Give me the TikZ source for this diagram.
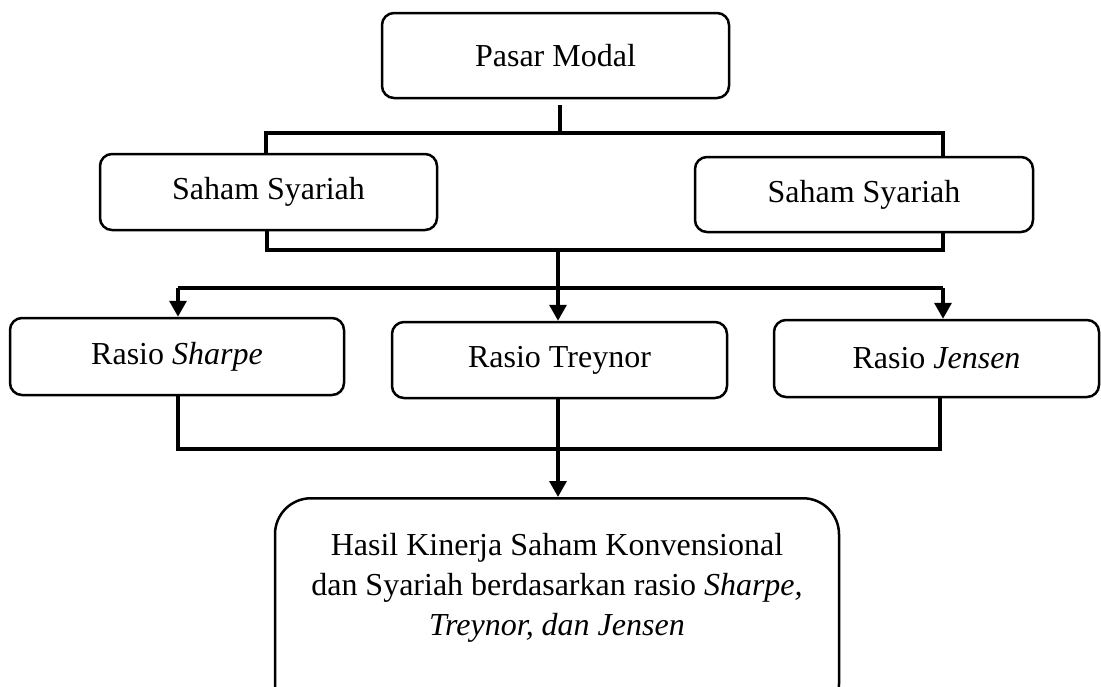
\documentclass[tikz,border=0pt]{standalone}
\usepackage{fontspec}
\setmainfont{Liberation Serif}
\usetikzlibrary{arrows.meta}
\begin{document}
\begin{tikzpicture}[x=1pt,y=-1pt,
  box/.style={draw=black, line width=2.5pt, rounded corners=12pt, inner sep=0pt, font=\fontsize{32}{40}\selectfont},
  conn/.style={draw=black, line width=3.5pt},
  arr/.style={conn, -{Triangle[width=17pt,length=16pt]}}]
\path[use as bounding box, clip] (0,0) rectangle (1101,686);
% boxes
\node[box, minimum width=347, minimum height=85] (pasar) at (555.5,55.5) {Pasar Modal};
\node[box, minimum width=337, minimum height=76] (s1) at (268.5,192) {Saham Syariah};
\node[box, minimum width=338, minimum height=75] (s2) at (864,194.5) {Saham Syariah};
\node[box, minimum width=334, minimum height=77] (r1) at (177,356.5) {Rasio \textit{Sharpe}};
\node[box, minimum width=335, minimum height=76] (r2) at (559.5,360) {Rasio Treynor};
\node[box, minimum width=325, minimum height=77] (r3) at (936.5,358.5) {Rasio \textit{Jensen}};
\node[box, rounded corners=36pt, minimum width=564, minimum height=222, anchor=north] (hasil) at (557,497) {};
\node[align=center, inner sep=0pt, font=\fontsize{32}{40}\selectfont] (hasiltxt) at (557,588)
  {Hasil Kinerja Saham Konvensional\\ dan Syariah berdasarkan rasio \textit{Sharpe,}\\ \textit{Treynor, dan Jensen}};
% coordinates
\coordinate (tb) at (560,133);
\coordinate (tbR) at (943,133);
\coordinate (mb) at (558,250);
\coordinate (mbR) at (943,250);
\coordinate (ab) at (558,288);
\coordinate (abL) at (178,288);
\coordinate (abR) at (943,288);
\coordinate (bb) at (558,449);
\coordinate (bbR) at (940,449);
% connectors
\draw[conn] ([yshift=-6pt]tb |- pasar.south) -- (tb);
\draw[conn] (s1.north -| 266,0) -- (266,133) -- (tbR) -- (tbR |- s2.north);
\draw[conn] (267,230) -- (267,250) -- (mbR) -- (mbR |- s2.south);
\draw[conn] (mb) -- (ab);
\draw[conn] (abL) -- (abR);
\draw[arr] (abL) -- (abL |- r1.north);
\draw[arr] (ab) -- (ab |- r2.north);
\draw[arr] (abR) -- (abR |- r3.north);
\draw[conn] (abL |- r1.south) -- (abL |- bb) -- (bbR) -- (bbR |- r3.south);
\draw[arr] (ab |- r2.south) -- (ab |- hasil.north);
\end{tikzpicture}
\end{document}
